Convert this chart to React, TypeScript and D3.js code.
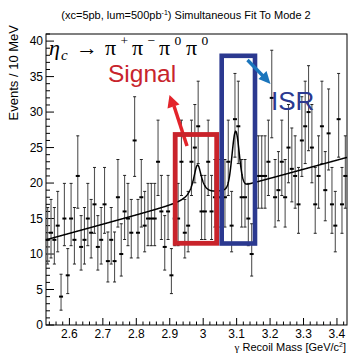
import * as d3 from "d3";

// 10 MeV bins from 2.53 to 3.43 GeV/c^2
const MASS_MIN = 2.53;
const MASS_MAX = 3.43;
const BIN_WIDTH = 0.01;

const counts = [
  12, 13, 12, 14, 4, 15, 7, 15, 12, 21,
  11, 12, 15, 13, 17, 11, 12, 17, 9, 12,
  9, 18, 10, 16, 15, 13, 26, 13, 18, 14,
  15, 15, 15, 23, 16, 11, 16, 7, 15, 15,
  23, 13, 14, 23, 25, 28, 16, 16, 23, 16,
  18, 18, 18, 18, 23, 14, 29, 28, 18, 18,
  15, 10, 18, 21, 21, 21, 23, 32, 18, 19,
  23, 18, 25, 22, 21, 17, 26, 28, 30, 25,
  17, 21, 28, 19, 27, 17, 14, 29, 17, 21,
];

const yTicks = [0, 5, 10, 15, 20, 25, 30, 35, 40];
const xTicks = [2.6, 2.7, 2.8, 2.9, 3.0, 3.1, 3.2, 3.3, 3.4];
const xTickLabels = ["2.6", "2.7", "2.8", "2.9", "3", "3.1", "3.2", "3.3", "3.4"];

// decay products in the channel label, each pi with its charge
const pionCharges = ["+", "−", "0", "0"];

// fit result: linear background + eta_c (BW) + J/psi ISR (gaussian)
const bgStart = 12;
const bgSlope = 12.9;
const sigMass = 2.983;
const sigAmp = 4.7;
const sigHalfWidth = 0.015;
const isrMass = 3.097;
const isrAmp = 7.9;
const isrSigma = 0.0106;

const W = 348;
const H = 353;
const frame = { left: 46, right: 347, top: 34, bottom: 325 };

const sans = "'Liberation Sans', Arial, Helvetica, sans-serif";
const serif = "'Liberation Serif', 'DejaVu Serif', 'Times New Roman', serif";

// Garwood poisson interval (Wilson-Hilferty approx), like RooFit's default errors
function poissonLow(n: number) {
  if (n <= 0) return 0;
  const t = 1 - 1 / (9 * n) - 1 / (3 * Math.sqrt(n));
  return n * t * t * t;
}
function poissonHigh(n: number) {
  const k = n + 1;
  const t = 1 - 1 / (9 * k) + 1 / (3 * Math.sqrt(k));
  return k * t * t * t;
}

function fitModel(m: number) {
  const bg = bgStart + bgSlope * (m - MASS_MIN);
  const ds = (m - sigMass) / sigHalfWidth;
  const sig = sigAmp / (1 + ds * ds);
  const di = (m - isrMass) / isrSigma;
  const isr = isrAmp * Math.exp(-0.5 * di * di);
  return bg + sig + isr;
}

export default function App() {
  const x = d3.scaleLinear().domain([MASS_MIN, MASS_MAX]).range([frame.left, frame.right]);
  const y = d3.scaleLinear().domain([0, 41]).range([frame.bottom, frame.top]);

  const points = counts.map((n, i) => ({
    m: MASS_MIN + (i + 0.5) * BIN_WIDTH,
    n,
    lo: poissonLow(n),
    hi: poissonHigh(n),
  }));

  const curve = d3
    .line<number>()
    .x((m) => x(m))
    .y((m) => y(fitModel(m)));
  const curveMasses = d3.range(MASS_MIN, MASS_MAX + 0.0005, 0.001);

  const yMinor = d3.range(0, 42, 1);
  const xMinor = d3.range(2.54, 3.43, 0.02);

  return (
    <div style={{ position: "fixed", left: 0, top: 0 }}>
      <svg width={W} height={H} style={{ display: "block", background: "#fff" }}>
        {/* title */}
        <text x={186} y={19} textAnchor="middle" fontFamily={sans} fontSize={11} fill="#000">
          (xc=5pb, lum=500pb
          <tspan fontSize={7} dy={-4}>-1</tspan>
          <tspan dy={4}>) Simultaneous Fit To Mode 2</tspan>
        </text>

        {/* frame */}
        <rect
          x={frame.left}
          y={frame.top}
          width={frame.right - frame.left}
          height={frame.bottom - frame.top}
          fill="none"
          stroke="#000"
          strokeWidth={1}
        />

        {/* y axis */}
        {yMinor.map((v) => (
          <line
            key={"ym" + v}
            x1={frame.left}
            x2={frame.left + (v % 5 === 0 ? 8 : 4)}
            y1={y(v)}
            y2={y(v)}
            stroke="#000"
            strokeWidth={1}
          />
        ))}
        {yTicks.map((v) => (
          <text
            key={"yl" + v}
            x={43}
            y={y(v)}
            dy="0.36em"
            textAnchor="end"
            fontFamily={sans}
            fontSize={12}
          >
            {v}
          </text>
        ))}
        <text
          transform={`translate(17.5,25) rotate(-90)`}
          textAnchor="end"
          fontFamily={sans}
          fontSize={13}
        >
          Events / 10 MeV
        </text>

        {/* x axis */}
        {xMinor.map((v, i) => {
          const major = xTicks.some((t) => Math.abs(t - v) < 1e-6);
          return (
            <line
              key={"xm" + i}
              x1={x(v)}
              x2={x(v)}
              y1={frame.bottom}
              y2={frame.bottom - (major ? 7 : 3.5)}
              stroke="#000"
              strokeWidth={1}
            />
          );
        })}
        {xTicks.map((v, i) => (
          <text key={"xl" + i} x={x(v)} y={338} textAnchor="middle" fontFamily={sans} fontSize={12}>
            {xTickLabels[i]}
          </text>
        ))}
        <text x={346} y={351} textAnchor="end" fontFamily={sans} fontSize={11}>
          <tspan fontFamily={serif}>γ</tspan> Recoil Mass [GeV/c
          <tspan fontSize={7} dy={-4}>2</tspan>
          <tspan dy={4}>]</tspan>
        </text>

        {/* data points with poisson errors */}
        {points.map((p, i) => (
          <g key={"p" + i}>
            <line x1={x(p.m)} x2={x(p.m)} y1={y(p.lo)} y2={y(p.hi)} stroke="#555" strokeWidth={1.1} />
            <line x1={x(p.m) - 1.5} x2={x(p.m) + 1.5} y1={y(p.lo)} y2={y(p.lo)} stroke="#222" strokeWidth={1} />
            <line x1={x(p.m) - 1.5} x2={x(p.m) + 1.5} y1={y(p.hi)} y2={y(p.hi)} stroke="#222" strokeWidth={1} />
            <rect x={x(p.m) - 2} y={y(p.n) - 1} width={4} height={2} fill="#000" />
          </g>
        ))}

        {/* fit curve */}
        <path d={curve(curveMasses) ?? ""} fill="none" stroke="#000" strokeWidth={1.5} />

        {/* channel label */}
        <g fontFamily={serif}>
          <text x={49} y={55} fontSize={22} fontStyle="italic">η</text>
          <text x={61} y={60} fontSize={15} fontStyle="italic">c</text>
          <text x={76} y={55} fontSize={22}>→</text>
          {pionCharges.map((q, i) => (
            <g key={"pi" + i}>
              <text x={105 + i * 27} y={55} fontSize={22}>π</text>
              <text x={120.5 + i * 27} y={45} fontSize={13.5}>{q}</text>
            </g>
          ))}
        </g>

        {/* annotations */}
        <text x={108} y={82} fontFamily={sans} fontSize={24.5} fill="#c8242c">
          Signal
        </text>
        <line x1={187} y1={146} x2={174} y2={106} stroke="#e3242b" strokeWidth={3.5} />
        <polygon points="169.5,95 167.5,108.5 179.5,104.5" fill="#e3242b" />
        <rect x={175.2} y={134.5} width={41.5} height={108.8} fill="none" stroke="#c9232b" strokeWidth={4.8} />

        <rect x={221.7} y={55.8} width={33.3} height={187.7} fill="none" stroke="#2b3990" strokeWidth={4.6} />
        <line x1={247.5} y1={60} x2={263} y2={76} stroke="#1b75bc" strokeWidth={3.3} />
        <polygon points="270.5,84 258.5,79 266.5,71" fill="#1b75bc" />
        <text x={271} y={110} fontFamily={sans} fontSize={26} fill="#2b3990">
          ISR
        </text>
      </svg>
    </div>
  );
}
